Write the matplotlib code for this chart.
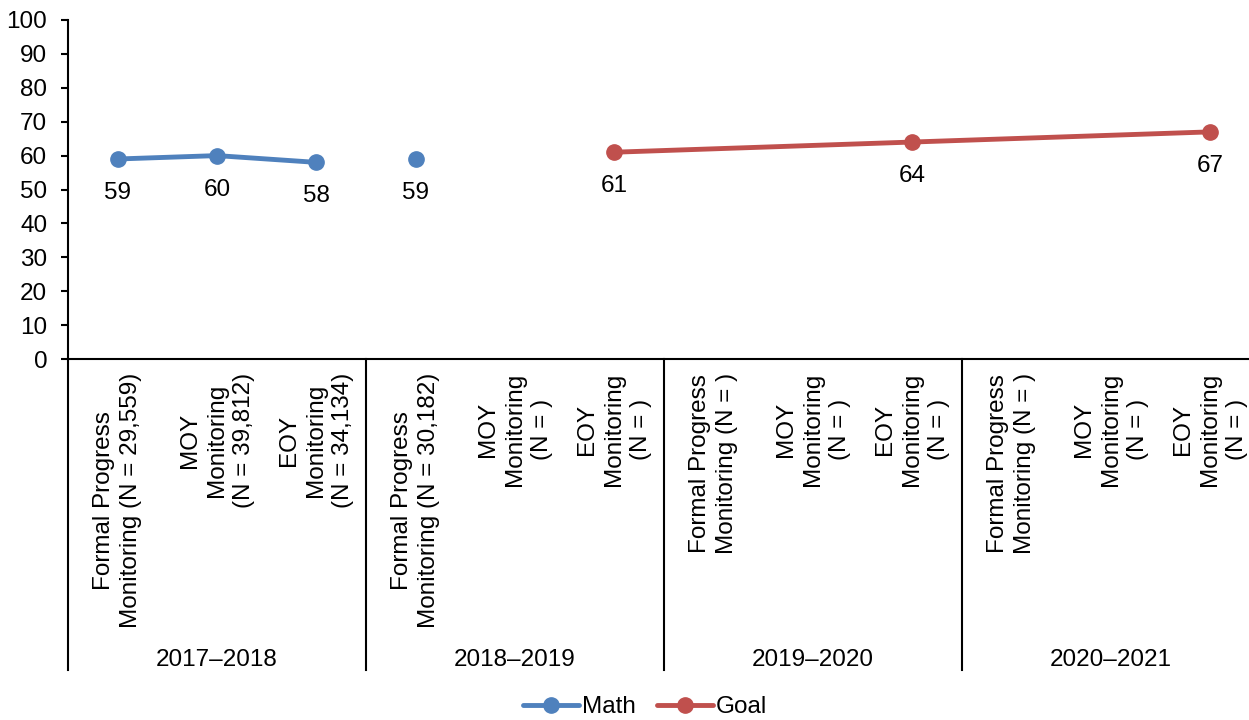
import numpy as np
import matplotlib.pyplot as plt
import matplotlib.transforms as mtransforms

plt.rcParams['font.family'] = ['Liberation Sans', 'DejaVu Sans']

# categories along the x axis, grouped by school year
cat_labels = [
    "Formal Progress\nMonitoring (N = 29,559)",
    "MOY\nMonitoring\n(N = 39,812)",
    "EOY\nMonitoring\n(N = 34,134)",
    "Formal Progress\nMonitoring (N = 30,182)",
    "MOY\nMonitoring\n(N = )",
    "EOY\nMonitoring\n(N = )",
    "Formal Progress\nMonitoring (N = )",
    "MOY\nMonitoring\n(N = )",
    "EOY\nMonitoring\n(N = )",
    "Formal Progress\nMonitoring (N = )",
    "MOY\nMonitoring\n(N = )",
    "EOY\nMonitoring\n(N = )",
]
years = ["2017\u20132018", "2018\u20132019", "2019\u20132020", "2020\u20132021"]

math_vals = [59, 60, 58, 59, None, None, None, None, None, None, None, None]
goal_vals = [None, None, None, None, None, 61, None, None, 64, None, None, 67]

blue = "#4F81BD"
red = "#C0504D"
fs = 17.5

fig = plt.figure(figsize=(12.49, 7.2), dpi=100)
ax = fig.add_axes([68 / 1249, 361 / 720, 1192 / 1249, 339 / 720])

x = np.arange(len(cat_labels))

# Math: first three points connected, the fourth stands alone
mx = [i for i, v in enumerate(math_vals) if v is not None]
my = [math_vals[i] for i in mx]
ax.plot(mx[:3], my[:3], color=blue, lw=3.5, marker='o', ms=11, label='Math',
        solid_capstyle='round', clip_on=False)
ax.plot(mx[3:], my[3:], color=blue, lw=3.5, marker='o', ms=11,
        linestyle='none', clip_on=False)

# Goal line spans the gaps
gx = [i for i, v in enumerate(goal_vals) if v is not None]
gy = [goal_vals[i] for i in gx]
ax.plot(gx, gy, color=red, lw=3.5, marker='o', ms=11, label='Goal',
        solid_capstyle='round', clip_on=False)

for xs, ys in ((mx, my), (gx, gy)):
    for xi, yi in zip(xs, ys):
        ax.annotate(str(yi), (xi, yi), xytext=(0, -24.5), textcoords='offset points',
                    ha='center', va='center', fontsize=fs)

ax.set_xlim(-0.5, 11.5)
ax.set_ylim(0, 100)
ax.set_yticks(range(0, 101, 10))
ax.tick_params(axis='y', labelsize=fs, length=5, width=1.5, pad=10)
ax.set_xticks(x)
ax.set_xticklabels(cat_labels, rotation=90, va='top', ha='center',
                   multialignment='center', fontsize=fs, linespacing=1.3)
ax.tick_params(axis='x', length=0, pad=10)

for s in ('top', 'right'):
    ax.spines[s].set_visible(False)
ax.spines['left'].set_linewidth(1.5)
ax.spines['bottom'].set_linewidth(1.5)

# group separators and year labels below the axis
trans = mtransforms.blended_transform_factory(ax.transData, ax.transAxes)
for b in (-0.5, 2.5, 5.5, 8.5, 11.5):
    ax.plot([b, b], [0, -0.917], color='black', lw=1.5, transform=trans, clip_on=False)
for k, yr in enumerate(years):
    ax.text(3 * k + 1, -0.888, yr, transform=trans, ha='center', va='center', fontsize=fs)

fig.legend(loc='center', bbox_to_anchor=(645 / 1249, 1 - 707 / 720), ncol=2,
           frameon=False, fontsize=fs, handlelength=2.3, handletextpad=0.1,
           columnspacing=0.9)

fig.savefig('out.png', dpi=100)
